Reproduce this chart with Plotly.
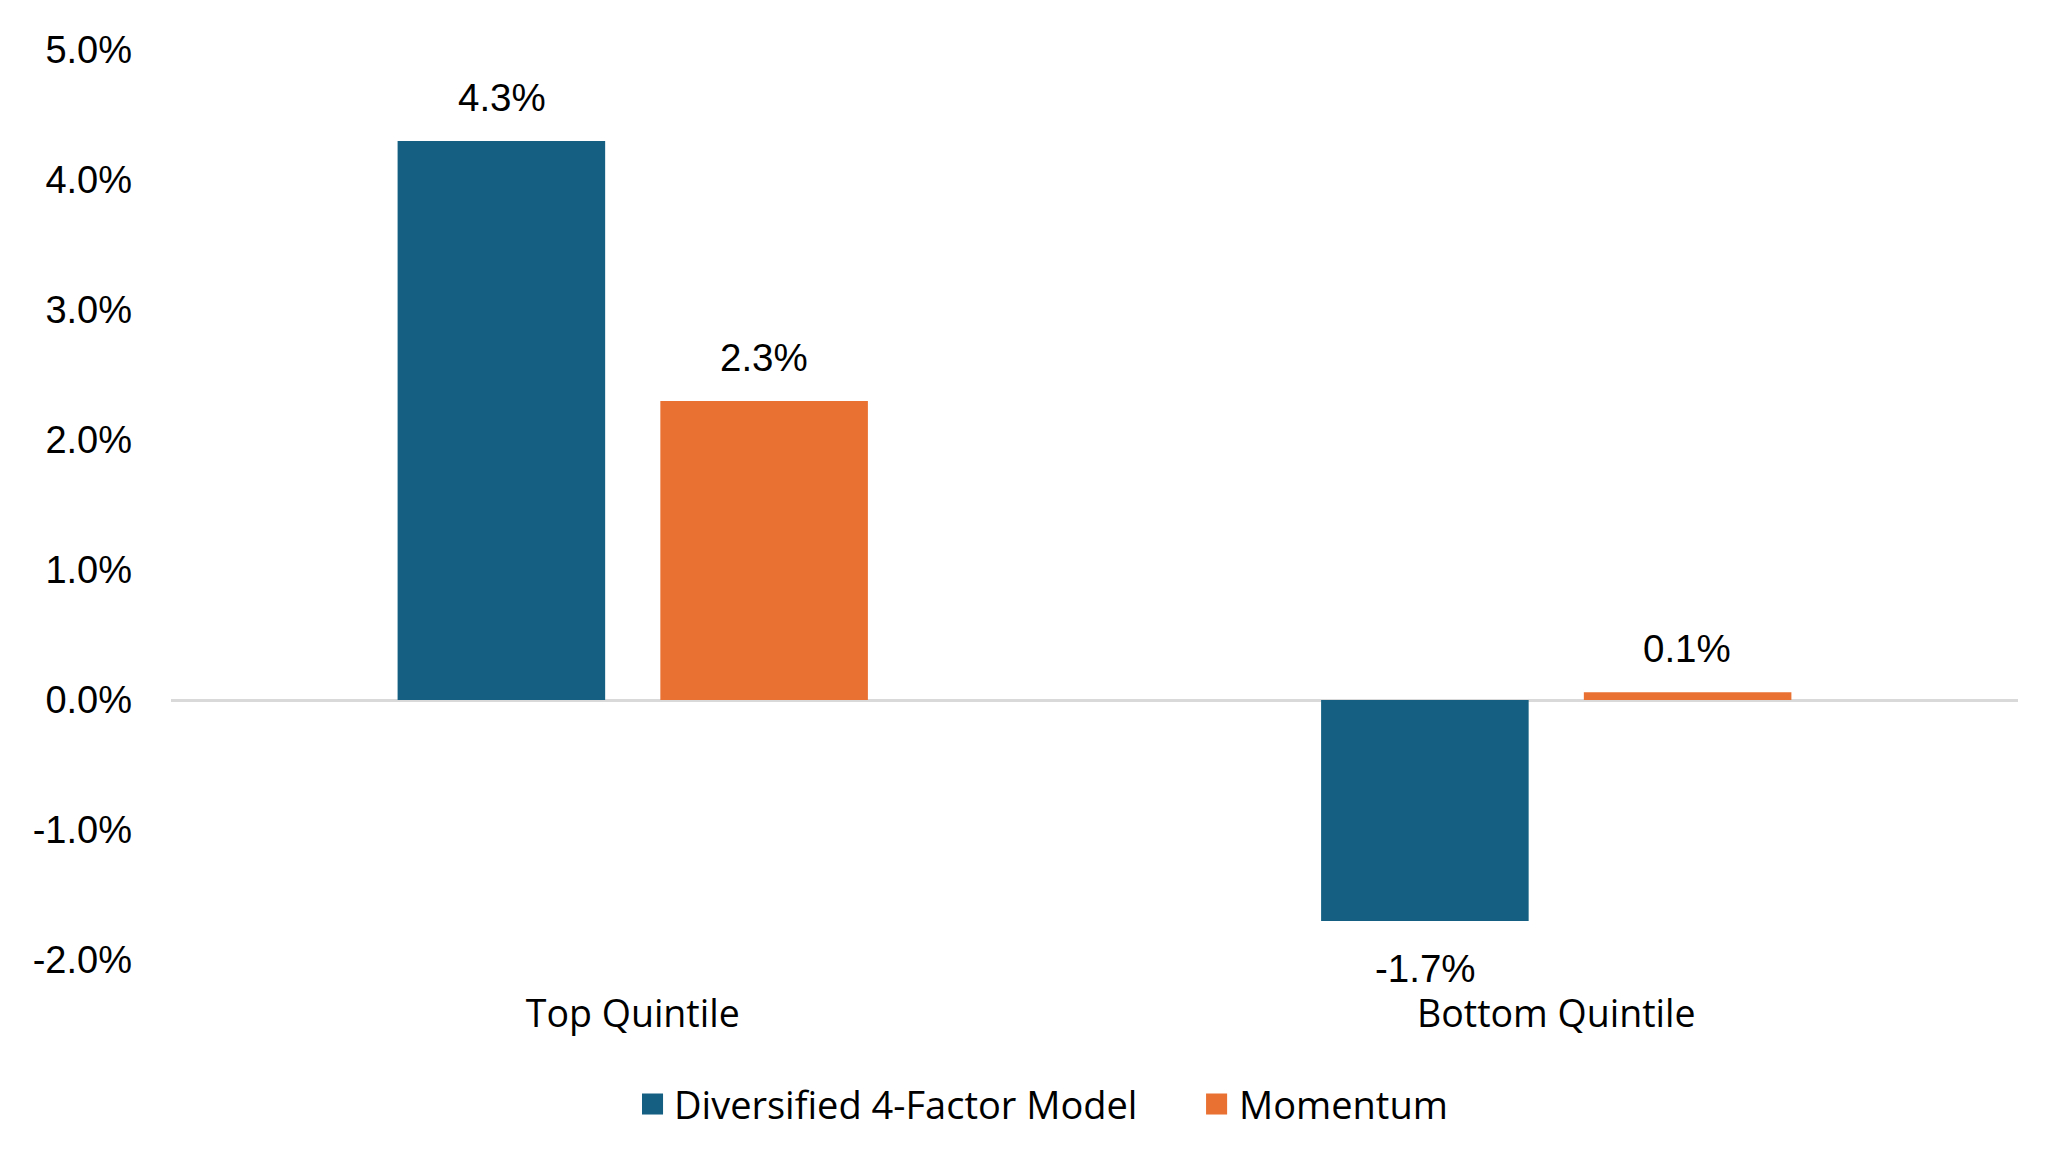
import plotly.graph_objects as go

categories = ["Top Quintile", "Bottom Quintile"]
series_names = ["Diversified 4-Factor Model", "Momentum"]
diversified = [4.3, -1.7]
momentum = [2.3, 0.06]
label_text = [["4.3%", "-1.7%"], ["2.3%", "0.1%"]]
y_ticks = [-2, -1, 0, 1, 2, 3, 4, 5]
y_tick_labels = ["-2.0%", "-1.0%", "0.0%", "1.0%", "2.0%", "3.0%", "4.0%", "5.0%"]

colors = ["#156082", "#E97132"]
NUM_FONT = "Liberation Sans"
TXT_FONT = "Open Sans"

fig = go.Figure()
for name, vals, col in zip(series_names, [diversified, momentum], colors):
    fig.add_trace(go.Bar(x=categories, y=vals, name=name, showlegend=False,
                         marker=dict(color=col, line=dict(width=0))))

# data labels
annotations = []
for si, vals in enumerate([diversified, momentum]):
    xshift = -131 if si == 0 else 131
    for ci, v in enumerate(vals):
        annotations.append(dict(
            x=categories[ci], y=v, xref="x", yref="y",
            text=label_text[si][ci], showarrow=False,
            xshift=xshift, yshift=44 if v >= 0 else -47,
            yanchor="middle", xanchor="center",
            font=dict(family=NUM_FONT, size=38.5, color="#000000"),
        ))

# legend (drawn manually for larger square swatches)
shapes = []
legend_sq_x = [(0.2550, 0.2664), (0.5604, 0.5718)]
legend_txt_x = [0.2710, 0.5769]
ly0, ly1, lyt = -0.1698, -0.1467, -0.1582
for name, col, (x0, x1), tx in zip(series_names, colors, legend_sq_x, legend_txt_x):
    shapes.append(dict(type="rect", xref="paper", yref="paper", x0=x0, x1=x1,
                       y0=ly0, y1=ly1, fillcolor=col, line=dict(width=0)))
    annotations.append(dict(x=tx, y=lyt, xref="paper", yref="paper", text=name,
                            showarrow=False, xanchor="left", yanchor="middle",
                            font=dict(family=TXT_FONT, size=38, color="#000000")))

fig.update_layout(
    width=2068, height=1173,
    margin=dict(l=163, r=58, t=42, b=221),
    paper_bgcolor="white", plot_bgcolor="white",
    barmode="group", bargap=0.431, bargroupgap=0.21,
    font=dict(family=NUM_FONT, size=38, color="#000000"),
    showlegend=False,
    annotations=annotations,
    shapes=shapes,
)
fig.update_xaxes(showline=False, showgrid=False, zeroline=False, ticks="",
                 ticklabelstandoff=28, tickfont=dict(family=TXT_FONT, size=37.5, color="#000000"))
fig.update_yaxes(range=[-2, 5], tickvals=y_ticks, ticktext=y_tick_labels,
                 showgrid=False, showline=False, zeroline=True, zerolinecolor="#D9D9D9",
                 zerolinewidth=3, ticks="", ticklabelstandoff=38,
                 tickfont=dict(family=NUM_FONT, size=38, color="#000000"))

fig.write_html("out.html")
